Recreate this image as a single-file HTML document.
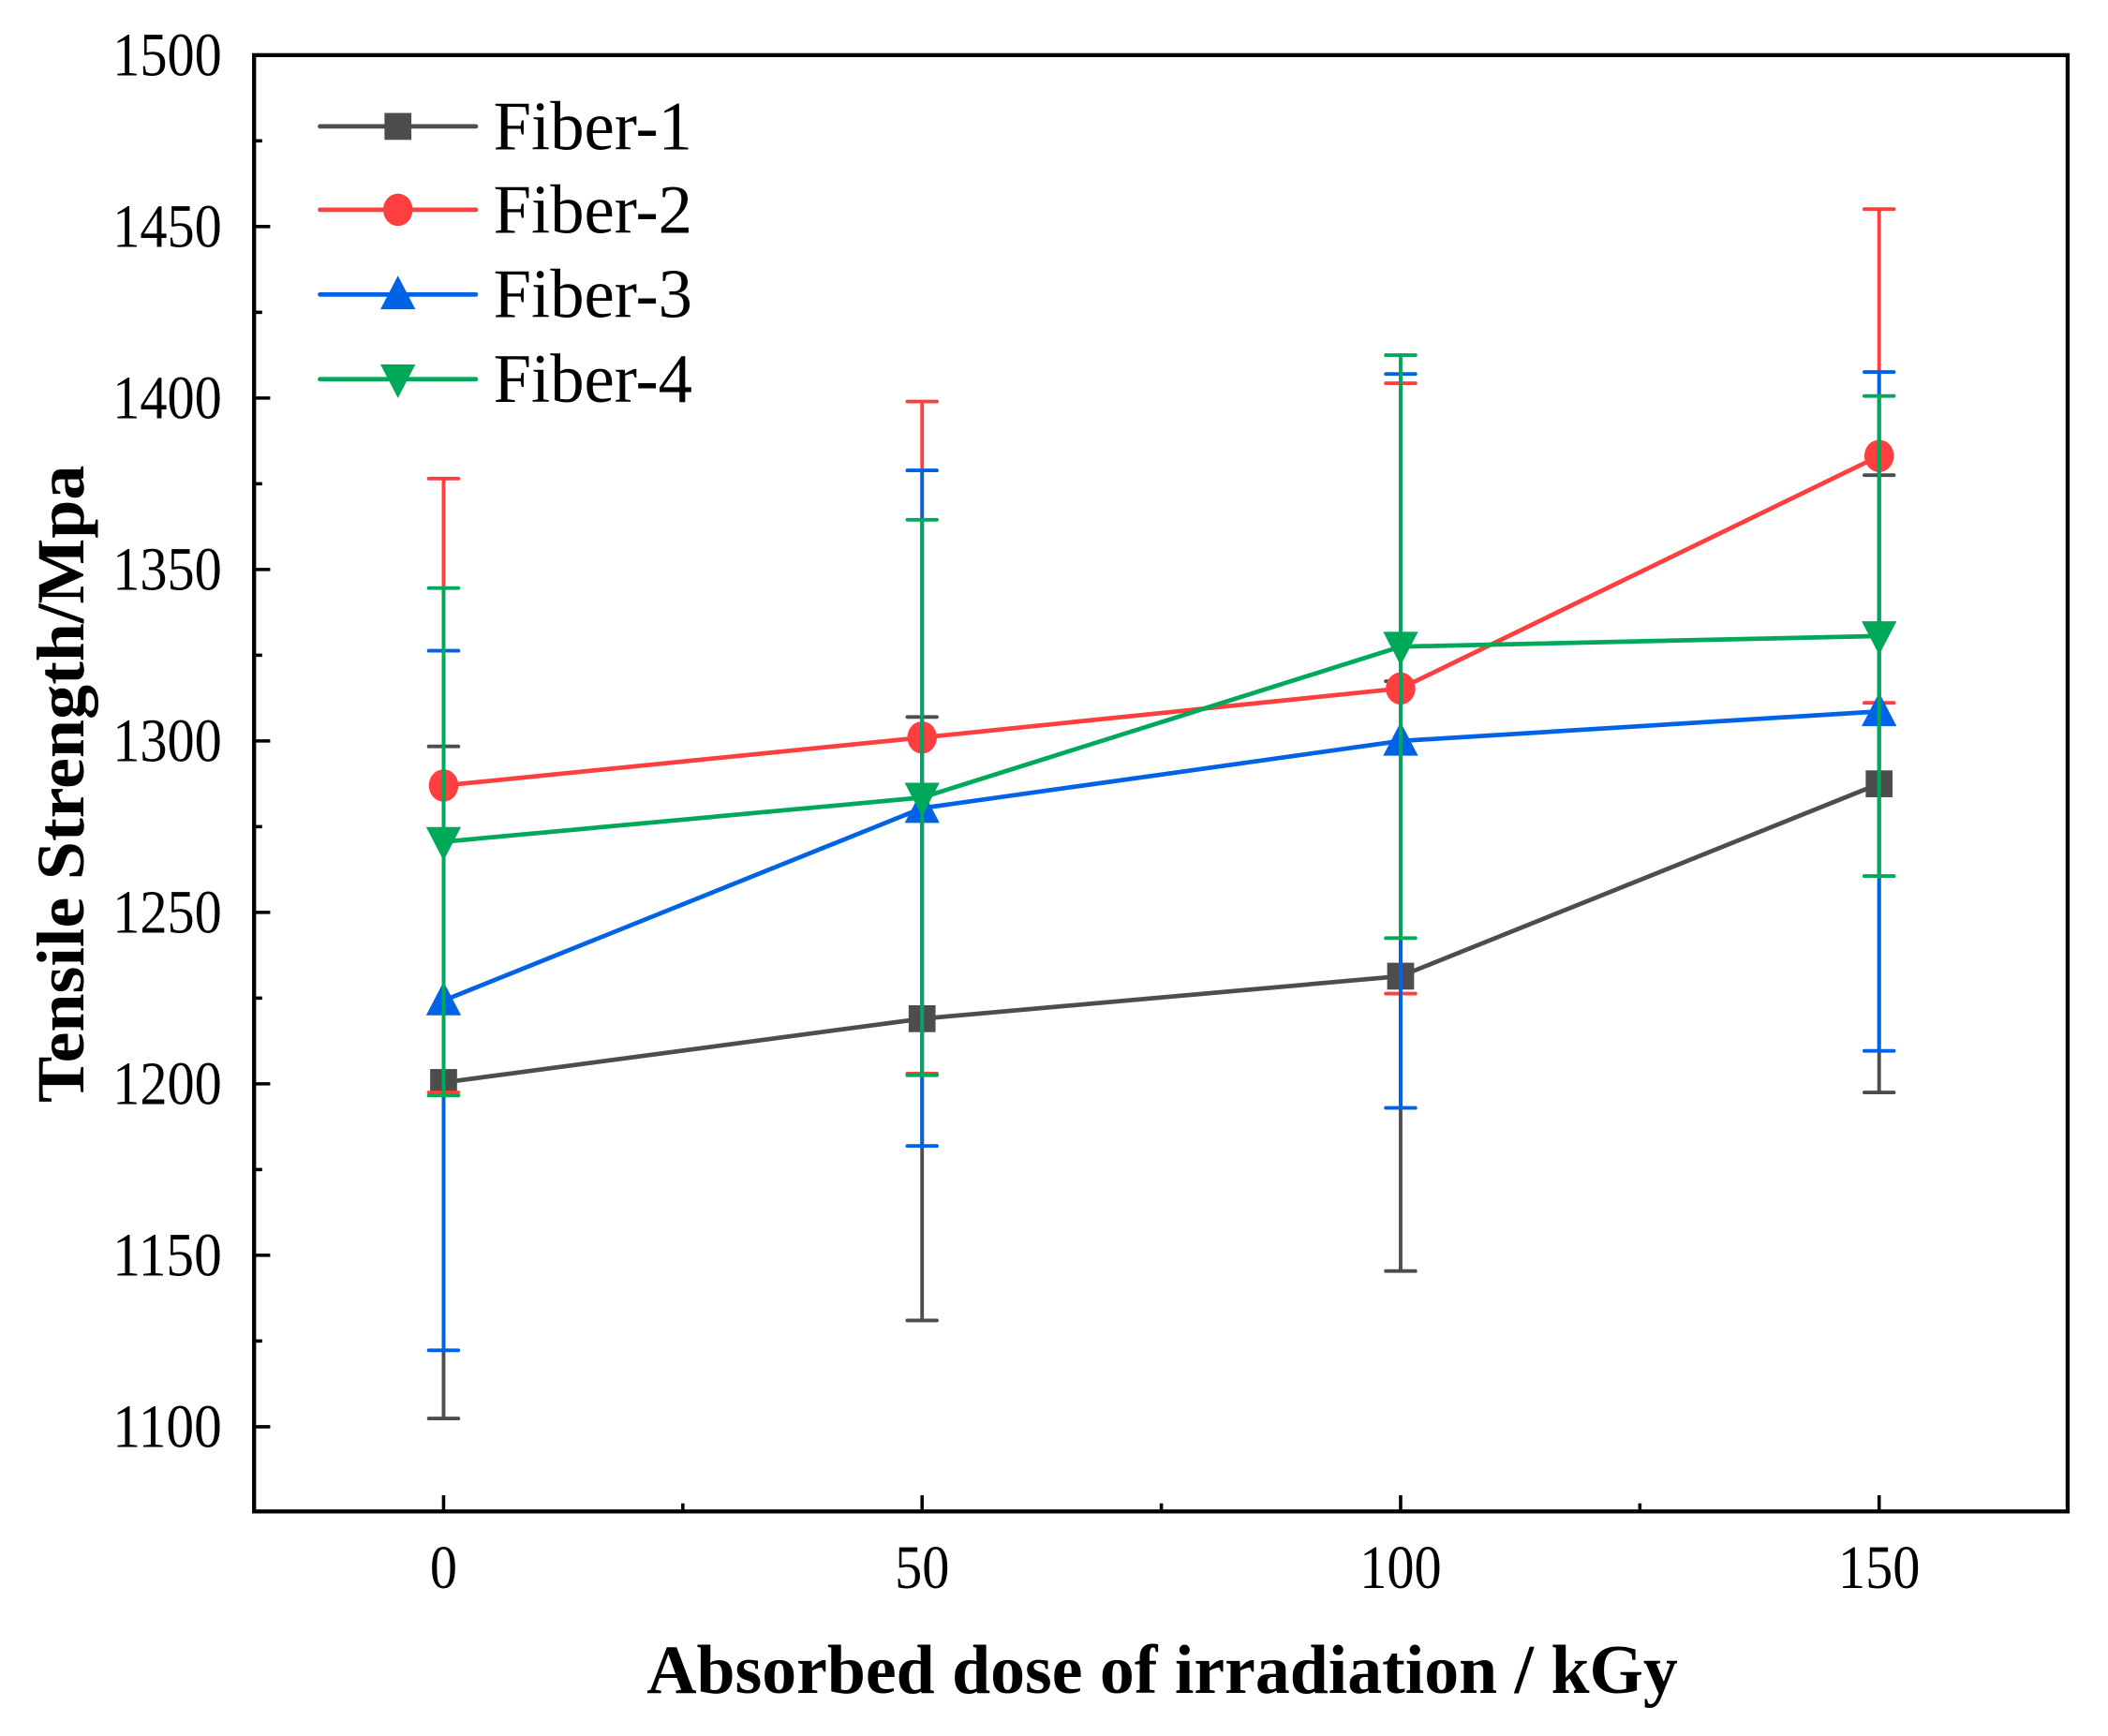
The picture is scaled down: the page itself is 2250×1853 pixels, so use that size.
<!DOCTYPE html>
<html><head><meta charset="utf-8"><style>
html,body{margin:0;padding:0;background:#fff;}
svg{display:block;}
text{font-family:"Liberation Serif",serif;}
</style></head><body>
<svg id="chart" width="2250" height="1853" viewBox="0 0 1568 1291" preserveAspectRatio="none" xmlns="http://www.w3.org/2000/svg">
<g id="plot"></g>
</svg>
<script>
const doses = [0, 50, 100, 150];
const fiber1 = [1200.4, 1219, 1231.4, 1287.5];
const fiber1Err = [98, 88, 86, 90];
const fiber2 = [1287, 1301, 1315.3, 1383.1];
const fiber2Err = [89.5, 98, 89, 72];
const fiber3 = [1224.3, 1280.4, 1300, 1308.6];
const fiber3Err = [102, 98.5, 107, 99];
const fiber4 = [1270.6, 1283.5, 1327.5, 1330.6];
const fiber4Err = [74, 81, 85, 70];
const seriesNames = ["Fiber-1", "Fiber-2", "Fiber-3", "Fiber-4"];
const yTicks = [1100, 1150, 1200, 1250, 1300, 1350, 1400, 1450, 1500];
const xTicks = [0, 50, 100, 150];

const L = 189, R = 1538, T = 41, B = 1124;
const xMin = -19.8, xMax = 169.7, yMin = 1075.3, yMax = 1500;
const X = v => L + (v - xMin) / (xMax - xMin) * (R - L);
const Y = v => B - (v - yMin) / (yMax - yMin) * (B - T);
const NS = "http://www.w3.org/2000/svg";
const g = document.getElementById('plot');
function mk(tag, attrs, parent) {
  const e = document.createElementNS(NS, tag);
  for (const k in attrs) e.setAttribute(k, attrs[k]);
  (parent || g).appendChild(e);
  return e;
}
const colors = ["#4d4d4d", "#ff3f3f", "#0063e6", "#00a85a"];
const shapes = ["square", "circle", "up", "down"];
const vals = [fiber1, fiber2, fiber3, fiber4];
const errs = [fiber1Err, fiber2Err, fiber3Err, fiber4Err];

function marker(shape, cx, cy, color, parent) {
  let e;
  if (shape === "square") e = mk('rect', {x: cx - 10, y: cy - 10, width: 20, height: 20, fill: color}, parent);
  else if (shape === "circle") e = mk('ellipse', {cx: cx, cy: cy, rx: 11, ry: 12, fill: color}, parent);
  else if (shape === "up") e = mk('polygon', {points: `${cx},${cy - 14} ${cx - 13},${cy + 11} ${cx + 13},${cy + 11}`, fill: color}, parent);
  else e = mk('polygon', {points: `${cx},${cy + 14} ${cx - 13},${cy - 11} ${cx + 13},${cy - 11}`, fill: color}, parent);
  return e;
}

for (let s = 0; s < 4; s++) {
  const sg = mk('g', {});
  
  
  const pts = doses.map((d, i) => X(d) + ',' + Y(vals[s][i])).join(' ');
  const line = mk('polyline', {points: pts, fill: 'none', stroke: colors[s], 'stroke-width': 3.3}, sg);
  
  
  doses.forEach((d, i) => {
    const m = marker(shapes[s], X(d), Y(vals[s][i]), colors[s], sg);
    
    
  });
  doses.forEach((d, i) => {
    const x = X(d), y1 = Y(vals[s][i] + errs[s][i]), y2 = Y(vals[s][i] - errs[s][i]);
    const eb = mk('path', {d: `M${x},${y1}V${y2}M${x - 11},${y1}H${x + 11}M${x - 11},${y2}H${x + 11}`, stroke: colors[s], 'stroke-width': 2.7, fill: 'none', 'stroke-linecap': 'round'}, sg);
    
    
  });
}

const frame = mk('rect', {x: L, y: T, width: R - L, height: B - T, fill: 'none', stroke: '#000', 'stroke-width': 3});



yTicks.forEach((v, i) => {
  mk('line', {x1: L, x2: L + 12, y1: Y(v), y2: Y(v), stroke: '#000', 'stroke-width': 2.5});
  if (i < yTicks.length - 1) {
    const mv = (v + yTicks[i + 1]) / 2;
    mk('line', {x1: L, x2: L + 6, y1: Y(mv), y2: Y(mv), stroke: '#000', 'stroke-width': 2.5});
  }
  const s = String(v);
  const t = mk('text', {x: 165 - s.length * 20.3, y: Y(v) + 15, 'font-size': 46, textLength: s.length * 20.3, lengthAdjust: 'spacingAndGlyphs'});
  t.textContent = s;
  
  
});
xTicks.forEach((v, i) => {
  mk('line', {x1: X(v), x2: X(v), y1: B, y2: B - 12, stroke: '#000', 'stroke-width': 2.5});
  if (i < xTicks.length - 1) {
    const mv = (v + xTicks[i + 1]) / 2;
    mk('line', {x1: X(mv), x2: X(mv), y1: B, y2: B - 6, stroke: '#000', 'stroke-width': 2.5});
  }
  const s = String(v);
  const w = s.length * 20.3;
  const t = mk('text', {x: X(v) - w / 2, y: 1181, 'font-size': 46, textLength: w, lengthAdjust: 'spacingAndGlyphs'});
  t.textContent = s;
  
  
});

const xt = mk('text', {x: 481, y: 1259, 'font-size': 52, 'font-weight': 'bold', textLength: 767, lengthAdjust: 'spacingAndGlyphs'});
xt.textContent = 'Absorbed dose of irradiation / kGy';


const yt = mk('text', {x: -237, y: 0, 'font-size': 50, 'font-weight': 'bold', textLength: 474, lengthAdjust: 'spacingAndGlyphs', transform: 'translate(62,583) rotate(-90)'});
yt.textContent = 'Tensile Strength/Mpa';



const lg = mk('g', {});


const legY = [94, 156, 219, 282];
for (let s = 0; s < 4; s++) {
  const eg = mk('g', {}, lg);
  
  
  mk('line', {x1: 238, x2: 354, y1: legY[s], y2: legY[s], stroke: colors[s], 'stroke-width': 3.3, 'stroke-linecap': 'round'}, eg);
  marker(shapes[s], 296, legY[s], colors[s], eg);
  const t = mk('text', {x: 367, y: legY[s] + 17, 'font-size': 52, textLength: 148, lengthAdjust: 'spacingAndGlyphs'}, eg);
  t.textContent = seriesNames[s];
}
</script>
</body></html>
